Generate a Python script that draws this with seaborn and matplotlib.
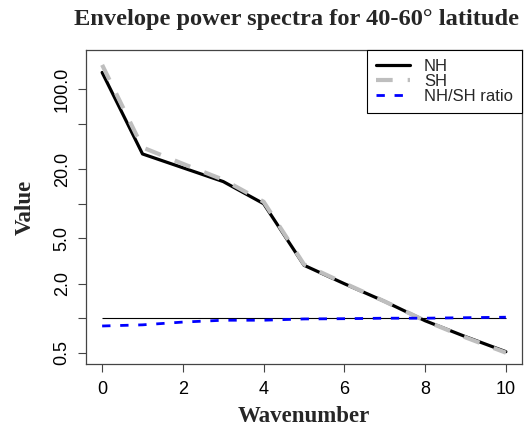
import numpy as np
import pandas as pd
import matplotlib
matplotlib.use("Agg")
import matplotlib.pyplot as plt
import seaborn as sns

# values
wavenumber = [0, 1, 2, 3, 4, 5, 6, 7, 8, 9, 10]
nh_power = [140, 27.2, 20.6, 15.6, 10.0, 2.9, 2.0, 1.40, 0.95, 0.69, 0.51]
sh_power = [163, 31, 22.3, 16.2, 10.4, 2.95, 2.02, 1.40, 0.95, 0.68, 0.50]
nh_sh_ratio = [0.855, 0.875, 0.925, 0.96, 0.96, 0.985, 0.99, 1.0, 1.0, 1.01, 1.02]

ytick_vals = [0.5, 1, 2, 5, 10, 20, 50, 100]
ytick_labels = ["0.5", "", "2.0", "5.0", "", "20.0", "", "100.0"]
xtick_vals = [0, 2, 4, 6, 8, 10]

df = pd.DataFrame({"wavenumber": wavenumber, "NH": nh_power,
                   "SH": sh_power, "ratio": nh_sh_ratio})

sns.set_style("white")
plt.rcParams['font.family'] = ['Liberation Sans', 'DejaVu Sans']

fig = plt.figure(figsize=(5.25, 4.28), dpi=100)
ax = fig.add_axes([0.1638, 0.1495, 0.8305, 0.7337])

axis_col = "#444444"

sns.lineplot(data=df, x="wavenumber", y="NH", ax=ax, color="black",
             linewidth=2.3, label="NH")
sns.lineplot(data=df, x="wavenumber", y="SH", ax=ax, color="#bebebe",
             linewidth=3.0, label="SH")
ax.lines[-1].set_linestyle((0, (4, 3.6)))
sns.lineplot(data=df, x="wavenumber", y="ratio", ax=ax, color="blue",
             linewidth=2.0, label="NH/SH ratio")
ax.lines[-1].set_linestyle((0, (3, 3.5)))
# reference line at ratio 1
ax.hlines(1, wavenumber[0], wavenumber[-1], color="black", linewidth=0.8,
          zorder=1)

ax.set_yscale("log")
ax.set_xlim(-0.4, 10.4)
ax.set_ylim(0.398, 220)
ax.set_yticks(ytick_vals)
ax.set_yticklabels(ytick_labels, rotation=90, va="center", fontsize=13)
ax.yaxis.set_minor_locator(matplotlib.ticker.NullLocator())
ax.set_xticks(xtick_vals)
ax.set_xticklabels([str(v) for v in xtick_vals], fontsize=13)
ax.tick_params(axis="both", direction="out", length=6, width=0.8,
               color=axis_col, labelcolor="black", left=True, bottom=True)
ax.tick_params(axis="x", pad=6.5)
ax.tick_params(axis="y", pad=5)

for sp in ax.spines.values():
    sp.set_color(axis_col)
    sp.set_linewidth(0.9)
    sp.set_visible(True)

ax.set_xlabel("Wavenumber", fontsize=16.5, fontweight="bold",
              family="Liberation Serif", labelpad=5.5)
ax.set_ylabel("Value", fontsize=16.5, fontweight="bold",
              family="Liberation Serif", labelpad=13)
ax.set_title("Envelope power spectra for 40-60° latitude", fontsize=17.6,
             fontweight="bold", family="Liberation Serif", pad=18, x=0.483)

leg = ax.legend(loc="upper right", bbox_to_anchor=(1.0, 1.0),
                borderaxespad=0, fancybox=False, framealpha=1,
                edgecolor="black", fontsize=12, handlelength=2.0,
                handletextpad=0.85, labelspacing=0.0, borderpad=0.55)
leg.get_frame().set_linewidth(0.8)

fig.savefig("out.png", dpi=100)
